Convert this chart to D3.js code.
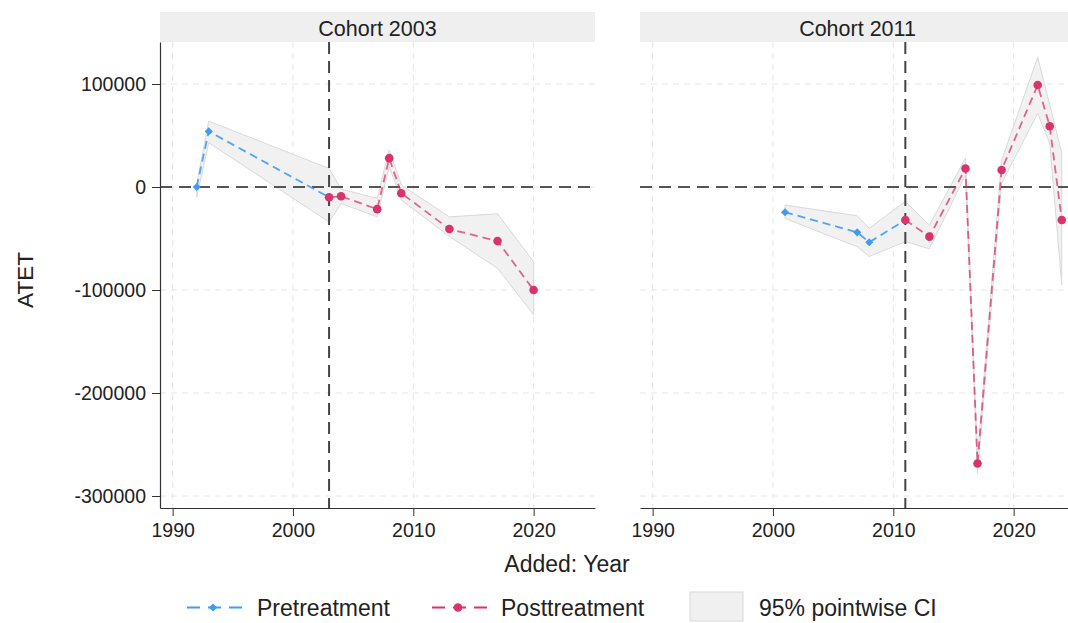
<!DOCTYPE html>
<html>
<head>
<meta charset="utf-8">
<script src="https://cdn.jsdelivr.net/npm/d3@7"></script>
<style>
  body { margin: 0; background: #fff; }
  text { font-family: "Liberation Sans", Arial, sans-serif; fill: #222; }
</style>
</head>
<body>
<div id="chart"></div>
<script>
// ---- data ----
var cohortLabels = ["Cohort 2003", "Cohort 2011"];
var treatYears = [2003, 2011];

var preYears2003 = [1992, 1993, 2003];
var preVals2003 = [0, 54000, -10000];
var postYears2003 = [2003, 2004, 2007, 2008, 2009, 2013, 2017, 2020];
var postVals2003 = [-10000, -9000, -21500, 28000, -6000, -40800, -52500, -100000];
var ciYears2003 = [1992, 1993, 2003, 2004, 2007, 2008, 2009, 2013, 2017, 2020];
var ciLo2003 = [-10000, 43000, -34000, -16000, -29000, 20000, -12500, -48000, -79000, -124000];
var ciHi2003 = [3000, 64000, 18000, -2000, -11000, 36000, 2000, -29000, -26000, -72500];

var preYears2011 = [2001, 2007, 2008, 2011];
var preVals2011 = [-24500, -44000, -53700, -32000];
var postYears2011 = [2011, 2013, 2016, 2017, 2019, 2022, 2023, 2024];
var postVals2011 = [-32000, -48200, 18000, -268500, 16500, 99000, 59000, -32000];
var ciYears2011 = [2001, 2007, 2008, 2011, 2013, 2016, 2017, 2019, 2022, 2023, 2024];
var ciLo2011 = [-30500, -58000, -67500, -53000, -60000, 11500, -278000, 3500, 71500, 42500, -95000];
var ciHi2011 = [-17500, -28000, -40000, -14000, -37000, 28000, -262000, 26000, 126000, 80000, 33000];

var yTicks = [100000, 0, -100000, -200000, -300000];
var xTicks = [1990, 2000, 2010, 2020];

var legendLabels = ["Pretreatment", "Posttreatment", "95% pointwise CI"];

function zip(xs, ys) {
    var out = [];
    for (var i = 0; i < xs.length; i++) out.push({x: xs[i], y: ys[i]});
    return out;
}
function zipBand(xs, lo, hi) {
    var out = [];
    for (var i = 0; i < xs.length; i++) out.push({x: xs[i], lo: lo[i], hi: hi[i]});
    return out;
}

var panels = [
    {label: cohortLabels[0], treat: treatYears[0],
     pre: zip(preYears2003, preVals2003), post: zip(postYears2003, postVals2003),
     ci: zipBand(ciYears2003, ciLo2003, ciHi2003), left: 160},
    {label: cohortLabels[1], treat: treatYears[1],
     pre: zip(preYears2011, preVals2011), post: zip(postYears2011, postVals2011),
     ci: zipBand(ciYears2011, ciLo2011, ciHi2011), left: 640}
];

var W = 1068, H = 623;
var panelW = 435;
var plotTop = 42, plotBottom = 508;
var blue = "#3f9cf2", pink = "#d8336d";
var font = "'Liberation Sans', Arial, sans-serif";
// plain hyphen for negatives, like the original
var fmt = function (d) { return String(d); };
var diamond = d3.symbol().type(d3.symbolDiamond2).size(42);

var svg = d3.select("#chart").append("svg")
    .attr("width", W).attr("height", H);

var y = d3.scaleLinear().domain([-311650, 140777]).range([plotBottom, plotTop]);

panels.forEach(function (p, idx) {
    var x = d3.scaleLinear().domain([1988.95, 2025.1]).range([p.left, p.left + panelW]);
    var g = svg.append("g");

    // strip header
    g.append("rect").attr("x", p.left).attr("y", 12)
        .attr("width", panelW).attr("height", 30).attr("fill", "#efefef");
    g.append("text").attr("x", p.left + panelW / 2).attr("y", 36)
        .attr("text-anchor", "middle").attr("font-size", 21.5).text(p.label);

    // grid
    g.selectAll(".vg").data(xTicks).enter().append("line")
        .attr("x1", function (d) { return x(d); }).attr("x2", function (d) { return x(d); })
        .attr("y1", plotTop).attr("y2", plotBottom)
        .attr("stroke", "#e6e6e6").attr("stroke-width", 1).attr("stroke-dasharray", "6,5");
    g.selectAll(".hg").data(yTicks).enter().append("line")
        .attr("x1", p.left).attr("x2", p.left + panelW)
        .attr("y1", function (d) { return y(d); }).attr("y2", function (d) { return y(d); })
        .attr("stroke", "#e6e6e6").attr("stroke-width", 1).attr("stroke-dasharray", "6,5");

    // CI band
    var area = d3.area()
        .x(function (d) { return x(d.x); })
        .y0(function (d) { return y(d.lo); })
        .y1(function (d) { return y(d.hi); });
    g.append("path").datum(p.ci).attr("d", area)
        .attr("fill", "#efefef").attr("fill-opacity", 0.9)
        .attr("stroke", "#d9d9d9").attr("stroke-width", 1);

    // reference lines
    g.append("line").attr("x1", p.left).attr("x2", p.left + panelW)
        .attr("y1", y(0)).attr("y2", y(0))
        .attr("stroke", "#555").attr("stroke-width", 2).attr("stroke-dasharray", "12,7");
    g.append("line").attr("x1", x(p.treat)).attr("x2", x(p.treat))
        .attr("y1", plotTop).attr("y2", plotBottom)
        .attr("stroke", "#444").attr("stroke-width", 2).attr("stroke-dasharray", "12,7");

    var line = d3.line().x(function (d) { return x(d.x); }).y(function (d) { return y(d.y); });

    // pretreatment
    g.append("path").datum(p.pre).attr("d", line)
        .attr("fill", "none").attr("stroke", blue).attr("stroke-width", 1.8)
        .attr("stroke-opacity", 0.9).attr("stroke-dasharray", "8,5");
    g.selectAll(".pre").data(p.pre).enter().append("path")
        .attr("transform", function (d) { return "translate(" + x(d.x) + "," + y(d.y) + ")"; })
        .attr("d", diamond)
        .attr("fill", blue);

    // posttreatment
    g.append("path").datum(p.post).attr("d", line)
        .attr("fill", "none").attr("stroke", pink).attr("stroke-width", 1.8)
        .attr("stroke-opacity", 0.75).attr("stroke-dasharray", "8,5");
    g.selectAll(".post").data(p.post).enter().append("circle")
        .attr("cx", function (d) { return x(d.x); }).attr("cy", function (d) { return y(d.y); })
        .attr("r", 4.3).attr("fill", pink);

    // x axis
    var xAxis = d3.axisBottom(x).tickValues(xTicks).tickFormat(fmt)
        .tickSize(8).tickPadding(7).tickSizeOuter(0);
    var xa = g.append("g").attr("transform", "translate(0," + plotBottom + ")").call(xAxis);
    xa.attr("font-size", 19.5).attr("font-family", font);
    xa.select(".domain").attr("stroke", "#333").attr("stroke-width", 1.2);
    xa.selectAll(".tick line").attr("stroke", "#333");
    xa.selectAll("text").attr("fill", "#222");

    if (idx === 0) {
        var yAxis = d3.axisLeft(y).tickValues(yTicks).tickFormat(fmt)
            .tickSize(8).tickPadding(6).tickSizeOuter(0);
        var ya = g.append("g").attr("transform", "translate(" + p.left + ",0)").call(yAxis);
        ya.attr("font-size", 19.5).attr("font-family", font);
        ya.select(".domain").attr("stroke", "#333").attr("stroke-width", 1.2);
        ya.selectAll(".tick line").attr("stroke", "#333");
        ya.selectAll("text").attr("fill", "#222");
    }
});

// axis titles
svg.append("text").attr("transform", "translate(33,280) rotate(-90)")
    .attr("text-anchor", "middle").attr("font-size", 22.5).text("ATET");
svg.append("text").attr("x", 567).attr("y", 572)
    .attr("text-anchor", "middle").attr("font-size", 23).text("Added: Year");

// legend
var lg = svg.append("g");
lg.append("line").attr("x1", 187).attr("x2", 242).attr("y1", 607.5).attr("y2", 607.5)
    .attr("stroke", blue).attr("stroke-width", 1.8).attr("stroke-dasharray", "13,8");
lg.append("path").attr("transform", "translate(213,607.5)")
    .attr("d", diamond).attr("fill", blue);
lg.append("text").attr("x", 257).attr("y", 616).attr("font-size", 23).text(legendLabels[0]);

lg.append("line").attr("x1", 432).attr("x2", 487).attr("y1", 607.5).attr("y2", 607.5)
    .attr("stroke", pink).attr("stroke-width", 1.8).attr("stroke-dasharray", "13,8");
lg.append("circle").attr("cx", 458).attr("cy", 607.5).attr("r", 4.3).attr("fill", pink);
lg.append("text").attr("x", 501).attr("y", 616).attr("font-size", 23).text(legendLabels[1]);

lg.append("rect").attr("x", 690).attr("y", 592).attr("width", 53).attr("height", 29)
    .attr("fill", "#f0f0f0").attr("stroke", "#d9d9d9");
lg.append("text").attr("x", 759).attr("y", 616).attr("font-size", 23).text(legendLabels[2]);
</script>
</body>
</html>
